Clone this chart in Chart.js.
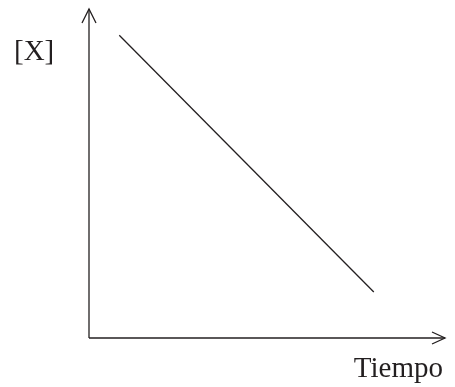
<!DOCTYPE html>
<html>
<head>
<meta charset="utf-8">
<script src="https://cdn.jsdelivr.net/npm/chart.js@4"></script>
<style>
  html, body { margin: 0; padding: 0; background: #fff; }
  #wrap { width: 455px; height: 387px; position: relative; }
</style>
</head>
<body>
<div id="wrap"><canvas id="c" width="455" height="387"></canvas></div>
<script>
// Data
const tiempo = [0.85, 8.0];          // x values (Tiempo)
const concentracion = [9.2, 1.4];    // y values ([X])
const yLabel = "[X]";
const xLabel = "Tiempo";

const ink = '#231f20';

const axesPlugin = {
  id: 'arrowAxes',
  afterDraw(chart) {
    const { ctx, chartArea: a } = chart;
    ctx.save();
    ctx.strokeStyle = ink;
    ctx.lineWidth = 1.3;
    ctx.lineCap = 'butt';
    // y axis
    ctx.beginPath();
    ctx.moveTo(a.left, a.bottom);
    ctx.lineTo(a.left, a.top);
    ctx.stroke();
    // y arrowhead
    ctx.beginPath();
    ctx.moveTo(a.left - 7, a.top + 14);
    ctx.lineTo(a.left, a.top);
    ctx.lineTo(a.left + 7, a.top + 14);
    ctx.stroke();
    // x axis
    ctx.beginPath();
    ctx.moveTo(a.left, a.bottom);
    ctx.lineTo(a.right, a.bottom);
    ctx.stroke();
    // x arrowhead
    ctx.beginPath();
    ctx.moveTo(a.right - 13, a.bottom - 6);
    ctx.lineTo(a.right, a.bottom);
    ctx.lineTo(a.right - 13, a.bottom + 6);
    ctx.stroke();
    // labels
    ctx.fillStyle = ink;
    ctx.font = '29px "Liberation Serif", "Times New Roman", serif';
    ctx.textBaseline = 'alphabetic';
    ctx.textAlign = 'left';
    ctx.fillText(yLabel, 14, 60);
    ctx.textAlign = 'right';
    ctx.fillText(xLabel, 443, 377);
    ctx.restore();
  }
};

new Chart(document.getElementById('c'), {
  type: 'scatter',
  data: {
    datasets: [{
      data: tiempo.map((t, i) => ({ x: t, y: concentracion[i] })),
      showLine: true,
      borderColor: ink,
      borderWidth: 1.3,
      pointRadius: 0,
      fill: false
    }]
  },
  options: {
    responsive: false,
    animation: false,
    layout: { padding: { left: 89, top: 9, right: 10, bottom: 49 } },
    plugins: { legend: { display: false }, tooltip: { enabled: false } },
    scales: {
      x: { type: 'linear', min: 0, max: 10, display: false },
      y: { type: 'linear', min: 0, max: 10, display: false }
    }
  },
  plugins: [axesPlugin]
});
</script>
</body>
</html>
